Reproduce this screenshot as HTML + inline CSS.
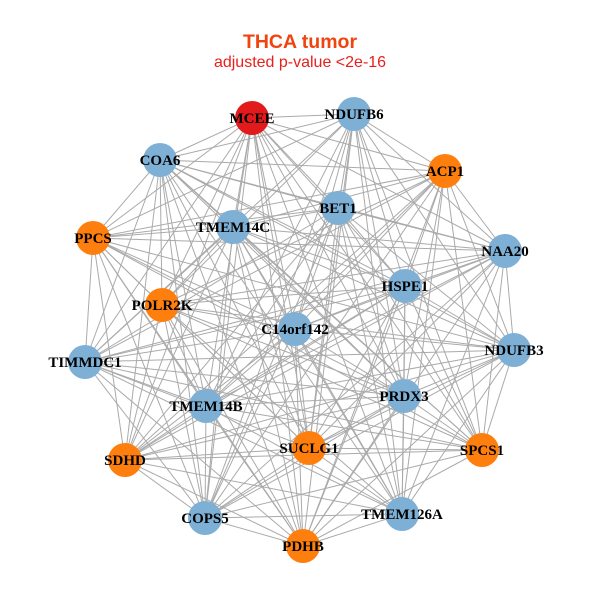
<!DOCTYPE html>
<html><head><meta charset="utf-8"><style>
html,body{margin:0;padding:0;background:#fff;}
svg{display:block;}
</style></head><body>
<svg id="s" width="600" height="600" xmlns="http://www.w3.org/2000/svg">
<text x="300" y="48" text-anchor="middle" font-family="Liberation Sans, sans-serif" font-weight="bold" font-size="19.5" fill="#f0440f">THCA tumor</text>
<text x="300" y="67" text-anchor="middle" font-family="Liberation Sans, sans-serif" font-size="16" fill="#e8201c">adjusted p-value &lt;2e-16</text>
<g id="edges" stroke="#aaaaaa" stroke-width="1"></g>
<g id="nodes"></g>
<g id="labels" font-family="Liberation Serif, serif" font-weight="bold" font-size="15" text-anchor="middle" fill="#000"></g>
</svg>
<script>
var B="#7eb0d6",O="#ff7f0e",R="#e31a1c";
var N=[
["MCEE",252,118,R],["NDUFB6",354,114,B],["COA6",160,160,B],["ACP1",445,171,O],
["BET1",338,208,B],["TMEM14C",233,227,B],["PPCS",93,238,O],["NAA20",505,251,B],
["HSPE1",405,286,B],["POLR2K",162,305,O],["C14orf142",295,329,B],["NDUFB3",514,350,B],
["TIMMDC1",85,362,B],["PRDX3",404,396,B],["TMEM14B",206,406,B],["SUCLG1",309,448,O],
["SDHD",125,460,O],["SPCS1",482,450,O],["COPS5",205,518,B],["TMEM126A",402,514,B],["PDHB",303,546,O]];
var ns="http://www.w3.org/2000/svg";
var e=document.getElementById("edges"),n=document.getElementById("nodes"),l=document.getElementById("labels");
for(var i=0;i<N.length;i++)for(var j=i+1;j<N.length;j++){
 if((i*7+j*3)%11==0)continue;
 var ln=document.createElementNS(ns,"line");
 ln.setAttribute("x1",N[i][1]);ln.setAttribute("y1",N[i][2]);
 ln.setAttribute("x2",N[j][1]);ln.setAttribute("y2",N[j][2]);e.appendChild(ln);}
N.forEach(function(d){
 var c=document.createElementNS(ns,"circle");
 c.setAttribute("cx",d[1]);c.setAttribute("cy",d[2]);c.setAttribute("r",17);c.setAttribute("fill",d[3]);n.appendChild(c);
 var t=document.createElementNS(ns,"text");
 t.setAttribute("x",d[1]);t.setAttribute("y",d[2]+5);t.textContent=d[0];l.appendChild(t);
});
</script>
</body></html>
